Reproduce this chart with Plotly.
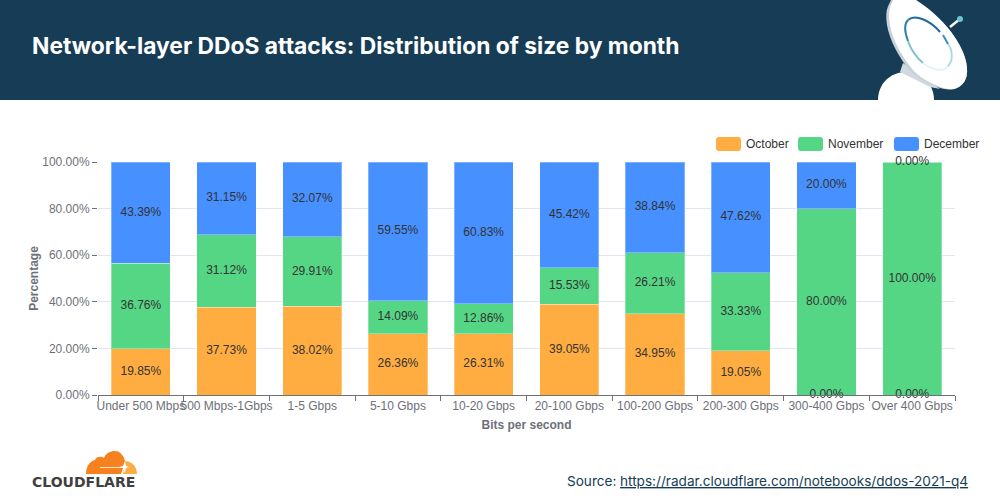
#!/usr/bin/env python3
# -*- coding: utf-8 -*-
"""Network-layer DDoS attacks: distribution of size by month"""

import plotly.graph_objects as go

W, H = 1000, 500

categories = ['Under 500 Mbps', '500 Mbps-1Gbps', '1-5 Gbps', '5-10 Gbps', '10-20 Gbps',
              '20-100 Gbps', '100-200 Gbps', '200-300 Gbps', '300-400 Gbps', 'Over 400 Gbps']
october = [19.85, 37.73, 38.02, 26.36, 26.31, 39.05, 34.95, 19.05, 0.00, 0.00]
november = [36.76, 31.12, 29.91, 14.09, 12.86, 15.53, 26.21, 33.33, 80.00, 100.00]
december = [43.39, 31.15, 32.07, 59.55, 60.83, 45.42, 38.84, 47.62, 20.00, 0.00]
y_ticks = [0, 20, 40, 60, 80, 100]
y_tick_labels = ['0.00%', '20.00%', '40.00%', '60.00%', '80.00%', '100.00%']

ORANGE = '#ffad41'
GREEN = '#55d685'
BLUE = '#4790ff'
HEADER = '#163c56'
GREY = '#6e7079'
SANS = 'Liberation Sans, Arial, sans-serif'


def px(x, y):
    """像素坐标 -> paper 坐标"""
    return f'{x / W:.5f},{1 - y / H:.5f}'


def path(*parts):
    """parts: 'M', (x, y), 'C', (x, y), ... """
    out = []
    for p in parts:
        out.append(p if isinstance(p, str) else px(*p))
    return ' '.join(out)


def shape_path(d, fill=None, line=None, width=0):
    return dict(type='path', xref='paper', yref='paper', path=d, layer='above',
                fillcolor=fill or 'rgba(0,0,0,0)',
                line=dict(color=line or 'rgba(0,0,0,0)', width=width))


def rect(x0, y0, x1, y1, fill, layer='above'):
    return dict(type='rect', xref='paper', yref='paper', x0=x0 / W, x1=x1 / W,
                y0=1 - y0 / H, y1=1 - y1 / H, fillcolor=fill, line=dict(width=0), layer=layer)


def round_rect(x0, y0, x1, y1, r, fill):
    return shape_path(path('M', (x0 + r, y0), 'L', (x1 - r, y0), 'Q', (x1, y0), (x1, y0 + r),
                           'L', (x1, y1 - r), 'Q', (x1, y1), (x1 - r, y1),
                           'L', (x0 + r, y1), 'Q', (x0, y1), (x0, y1 - r),
                           'L', (x0, y0 + r), 'Q', (x0, y0), (x0 + r, y0), 'Z'), fill=fill)


def label_at(x, y, text, size=12, color='#333333', family=SANS, anchor='left', **font_extra):
    return dict(xref='paper', yref='paper', x=x / W, y=1 - y / H, text=text, showarrow=False,
                xanchor=anchor, yanchor='middle', align=anchor,
                font=dict(size=size, color=color, family=family, **font_extra))


def smooth(points):
    parts = ['M', points[0]]
    for i in range(1, len(points)):
        x0, y0 = points[i - 1]
        x1, y1 = points[i]
        parts += ['Q', (x0, y0), ((x0 + x1) / 2, (y0 + y1) / 2)]
    parts += ['L', points[-1], 'Z']
    return path(*parts)


def dish_shapes():
    """右上角卫星天线插图"""
    rim = [(891, 0), (885, 13), (889, 37), (903, 63), (917, 78), (940, 89), (957, 90),
           (968, 78), (966, 57), (953, 33), (933, 12), (916, 0)]
    face = [(893, 0), (888, 13), (892, 37), (906, 62), (919, 77), (941, 88), (957, 90),
            (968, 78), (966, 57), (953, 33), (933, 12), (916, 0)]

    shapes = [
        # 底座
        shape_path(path('M', (878, 100), 'C', (878, 84), (890, 72), (906, 72),
                        'C', (922, 72), (934, 84), (934, 100), 'Z'), fill='#ffffff'),
        # 颈部
        shape_path(path('M', (903, 63), 'L', (900, 72), 'L', (930, 87), 'L', (940, 89), 'Z'),
                   fill='#cfd9df'),
        # 碟面
        shape_path(smooth(rim), fill='#c6d1d8'),
        shape_path(smooth(face), fill='#ffffff'),
        # 天线
        shape_path(path('M', (950, 27), 'L', (960, 19)), line='#ffffff', width=2.5),
        dict(type='circle', xref='paper', yref='paper', x0=957 / W, x1=963 / W,
             y0=1 - 22 / H, y1=1 - 16 / H, fillcolor='#6cc5d1', line=dict(width=0), layer='above'),
    ]
    # 内环，分段渐变
    arc = [
        ('#1f6a9c', path('M', (940, 32), 'C', (930, 20), (915, 14), (908, 20))),
        ('#2f82ab', path('M', (908, 20), 'C', (904, 24), (905, 33), (908, 41))),
        ('#7cc0d2', path('M', (908, 41), 'C', (911, 50), (916, 57), (923, 63))),
        ('#e4f4f8', path('M', (923, 63), 'C', (932, 70), (943, 73), (948, 66))),
        ('#a9dbe5', path('M', (948, 66), 'C', (954, 60), (952, 49), (948, 44))),
        ('#3f8fb4', path('M', (948, 44), 'L', (943, 35))),
    ]
    for color, d in arc:
        shapes.append(shape_path(d, line=color, width=2))
    return shapes


def logo_shapes():
    """Cloudflare 云朵"""
    dark = path('M', (86, 474), 'C', (86, 465), (91, 461), (95, 460),
                'C', (96, 456), (102, 456), (104, 458),
                'C', (106, 452), (112, 451), (115, 451),
                'C', (120, 451), (124, 456), (125, 461),
                'C', (124, 466), (122, 471), (121, 474), 'Z')
    light = path('M', (123, 474), 'L', (137, 474), 'C', (137, 466), (131, 461), (125, 461),
                 'C', (125, 466), (124, 470), (123, 474), 'Z')
    star = path('M', (119, 467), 'L', (123, 466), 'L', (125, 461), 'L', (126, 466),
                'L', (129, 467), 'L', (126, 468), 'L', (125, 473), 'L', (123, 468), 'Z')
    return [
        shape_path(dark, fill='#f6821f'),
        shape_path(light, fill='#fbad41'),
        shape_path(path('M', (100, 467.5), 'L', (122, 467.5)), line='#fde3c8', width=1),
        shape_path(star, fill='#ffffff'),
    ]


def build_figure():
    fig = go.Figure()
    bar_line = dict(color='rgba(255,255,255,0.3)', width=1)
    for name, values, color in [('October', october, ORANGE),
                                ('November', november, GREEN),
                                ('December', december, BLUE)]:
        fig.add_trace(go.Bar(x=categories, y=values, name=name,
                             marker=dict(color=color, line=bar_line), hoverinfo='x+y+name'))

    # 数值标签放在各段中点（0% 的段也要显示）
    base = [0.0] * len(categories)
    for values in (october, november, december):
        mids = [b + v / 2 for b, v in zip(base, values)]
        fig.add_trace(go.Scatter(x=categories, y=mids, mode='text',
                                 text=[f'{v:.2f}%' for v in values],
                                 textposition='middle center', cliponaxis=False,
                                 textfont=dict(size=12, color='#333333', family=SANS),
                                 hoverinfo='skip', showlegend=False))
        base = [b + v for b, v in zip(base, values)]

    shapes = [rect(0, 0, W, 100, HEADER)] + dish_shapes() + logo_shapes()
    annotations = [
        label_at(30, 46, 'Network-layer DDoS attacks: Distribution of size by month',
                 size=22.8, color='#ffffff', family='Inter, sans-serif', weight=700),
        label_at(30, 482, 'CLOUDFLARE', size=14, color='#404041',
                 family='DejaVu Sans, sans-serif', weight=700),
        label_at(565, 481, 'Source:', size=13.6, color='#163c56', family='Inter, sans-serif'),
        label_at(618, 481, '<a href="https://radar.cloudflare.com/notebooks/ddos-2021-q4" '
                           'style="color:#163c56">'
                           'https://radar.cloudflare.com/notebooks/ddos-2021-q4</a>',
                 size=13.6, color='#163c56', family='Inter, sans-serif', lineposition='under'),
    ]
    # 图例：圆角色块 + 文本
    for name, color, x0 in [('October', ORANGE, 716), ('November', GREEN, 798), ('December', BLUE, 894)]:
        shapes.append(round_rect(x0, 137, x0 + 25, 151, 3, color))
        annotations.append(label_at(x0 + 28, 144, name, size=12, color='#333333'))

    fig.update_layout(
        barmode='stack', bargap=0.31, width=W, height=H, showlegend=False,
        margin=dict(l=0, r=0, t=0, b=0), paper_bgcolor='#ffffff', plot_bgcolor='#ffffff',
        shapes=shapes, annotations=annotations,
        font=dict(family=SANS, size=12, color=GREY),
        xaxis=dict(domain=[0.098, 0.955], type='category', tickson='boundaries', tickangle=0,
                   ticks='outside', ticklen=5, tickcolor=GREY, showline=True, linecolor=GREY,
                   linewidth=1, showgrid=False, tickfont=dict(size=12, color=GREY, family=SANS),
                   automargin=False,
                   title=dict(text='<b>Bits per second</b>', standoff=8,
                              font=dict(size=12, color=GREY, family=SANS))),
        yaxis=dict(domain=[0.21, 0.676], range=[0, 100], tickvals=y_ticks, ticktext=y_tick_labels,
                   ticks='outside', ticklen=5, tickcolor=GREY, showline=False,
                   gridcolor='#e0e6f1', gridwidth=1, zeroline=False, automargin=False,
                   tickfont=dict(size=12, color=GREY, family=SANS),
                   title=dict(text='<b>Percentage</b>', standoff=1,
                              font=dict(size=12, color=GREY, family=SANS))),
    )
    return fig


if __name__ == '__main__':
    fig = build_figure()
    # 去掉 body 默认外边距，让图贴满窗口
    fig.write_html("out.html", config={'displayModeBar': False},
                   post_script="document.body.style.margin='0';")
